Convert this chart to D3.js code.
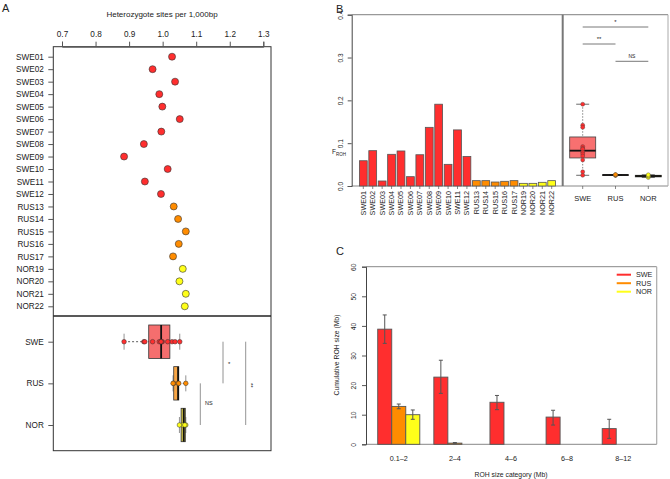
<!DOCTYPE html>
<html><head><meta charset="utf-8">
<script src="https://cdn.jsdelivr.net/npm/d3@7"></script>
<style>
html,body{margin:0;padding:0;background:#fff;}
svg{display:block;font-family:"Liberation Sans",Arial,Helvetica,sans-serif;}
</style></head>
<body><svg id="c" width="670" height="479"></svg>
<script>
// ---------- DATA ----------
const ids = ["SWE01","SWE02","SWE03","SWE04","SWE05","SWE06","SWE07","SWE08","SWE09","SWE10","SWE11","SWE12",
             "RUS13","RUS14","RUS15","RUS16","RUS17","NOR19","NOR20","NOR21","NOR22"];
const idGroup = ids.map(d => d.slice(0,3));
const groups = ["SWE","RUS","NOR"];
const groupColors = ["#FF2E2E","#FF8C00","#FFFF1A"];
const boxFillA = ["#F56E6E","#F7A545","#CFC24A"];
// Panel A: heterozygote sites per 1,000bp
const hetValues = [1.028,0.970,1.037,0.990,0.999,1.051,0.996,0.944,0.885,1.015,0.947,0.995,
                   1.033,1.046,1.069,1.048,1.031,1.060,1.050,1.069,1.066];
const hetTicks = [0.7,0.8,0.9,1.0,1.1,1.2,1.3];
// Panel B: FROH per individual
const frohValues = [0.059,0.0825,0.0117,0.074,0.0818,0.0218,0.073,0.137,0.191,0.0506,0.131,0.069,
                    0.0125,0.0125,0.0093,0.011,0.0125,0.0062,0.0062,0.0086,0.0125];
const frohTicks = [0.0,0.1,0.2,0.3,0.4];
// Panel B boxplot values per population
const frohBoxSWE = [0.191,0.142,0.137,0.092,0.088,0.086,0.079,0.075,0.070,0.061,0.033,0.025];
const frohBoxRUS = [0.0248,0.0253,0.0257,0.0261,0.0266];
const frohBoxNOR = [0.0198,0.0228,0.0238,0.0262];
// Panel C: cumulative ROH size by category
const rohCats = ["0.1\u20132","2\u20134","4\u20136","6\u20138","8\u201312"];
const rohSWE = [38.9,22.7,14.2,9.2,5.3];
const rohRUS = [12.8,0.4,0,0,0];
const rohNOR = [10.0,0,0,0,0];
const rohSWElo = [34.1,17.2,11.7,6.5,2.0], rohSWEhi = [43.7,28.4,16.5,11.5,8.45];
const rohRUSlo = [12.0,0.2,0,0,0], rohRUShi = [13.6,0.6,0,0,0];
const rohNORlo = [8.45,0,0,0,0], rohNORhi = [11.6,0,0,0,0];
const rohTicks = [0,10,20,30,40,50,60];

// ---------- helpers ----------
function fivenum(arr){
  const x = arr.slice().sort((a,b)=>a-b), n = x.length;
  const n4 = Math.floor((n+3)/2)/2;
  const d = [1,n4,(n+1)/2,n+1-n4,n];
  return d.map(v => 0.5*(x[Math.floor(v-1)] + x[Math.ceil(v-1)]));
}
const svg = d3.select("#c");
const txt = "#222";

// panel letters
svg.append("text").attr("x",2).attr("y",12).attr("font-size",11).attr("fill",txt).text("A");
svg.append("text").attr("x",336).attr("y",13).attr("font-size",11).attr("fill",txt).text("B");
svg.append("text").attr("x",336).attr("y",255).attr("font-size",11).attr("fill",txt).text("C");

// ================= PANEL A =================
const xA = d3.scaleLinear().domain([0.7,1.3]).range([62,263.3]);
const yA = d3.scalePoint().domain(ids).range([56.7,306.3]);
const yAb = d3.scalePoint().domain(groups).range([341.7,425]);
const gA = svg.append("g");
gA.append("rect").attr("x",53.3).attr("y",46.7).attr("width",217.7).attr("height",404)
  .attr("fill","none").attr("stroke","#333").attr("stroke-width",1);
gA.append("line").attr("x1",53.3).attr("x2",271).attr("y1",316).attr("y2",316)
  .attr("stroke","#222").attr("stroke-width",1.3);
gA.append("text").attr("x",162).attr("y",17).attr("text-anchor","middle").attr("font-size",8)
  .attr("fill",txt).text("Heterozygote sites per 1,000bp");
const axA = gA.append("g").attr("transform","translate(0,46.7)")
  .call(d3.axisTop(xA).tickValues(hetTicks).tickFormat(d3.format(".1f")).tickSize(5).tickPadding(5));
const axL = gA.append("g").attr("transform","translate(53.3,0)")
  .call(d3.axisLeft(yA).tickSize(5).tickPadding(4.5));
const axL2 = gA.append("g").attr("transform","translate(53.3,0)")
  .call(d3.axisLeft(yAb).tickSize(5).tickPadding(4.5));
[axA,axL,axL2].forEach(a=>{
  a.select(".domain").attr("stroke","#555");
  a.selectAll(".tick line").attr("stroke","#555");
  a.selectAll("text").attr("font-size",8.2).attr("fill",txt).attr("font-family","Liberation Sans, Arial, sans-serif");
});
axL.select(".domain").remove(); axL2.select(".domain").remove();
// dots
gA.selectAll("circle.dot").data(hetValues).join("circle").attr("class","dot")
  .attr("cx",d=>xA(d)).attr("cy",(d,i)=>yA(ids[i])).attr("r",3.5)
  .attr("fill",(d,i)=>groupColors[groups.indexOf(idGroup[i])])
  .attr("stroke","#333").attr("stroke-width",0.6);
// boxplots
groups.forEach((g,gi)=>{
  const vals = hetValues.filter((d,i)=>idGroup[i]===g);
  const f = fivenum(vals);
  const cy = yAb(g), hh = 16.7, sh = 8;
  gA.append("line").attr("x1",xA(f[0])).attr("x2",xA(f[1])).attr("y1",cy).attr("y2",cy)
    .attr("stroke","#333").attr("stroke-dasharray","2,2").attr("stroke-width",0.8);
  gA.append("line").attr("x1",xA(f[3])).attr("x2",xA(f[4])).attr("y1",cy).attr("y2",cy)
    .attr("stroke","#333").attr("stroke-dasharray","2,2").attr("stroke-width",0.8);
  [f[0],f[4]].forEach(v=>gA.append("line").attr("x1",xA(v)).attr("x2",xA(v))
    .attr("y1",cy-sh).attr("y2",cy+sh).attr("stroke","#777").attr("stroke-width",0.8));
  gA.append("rect").attr("x",xA(f[1])).attr("y",cy-hh).attr("width",xA(f[3])-xA(f[1])).attr("height",2*hh)
    .attr("fill",boxFillA[gi]).attr("stroke","#333").attr("stroke-width",0.8);
  gA.append("line").attr("x1",xA(f[2])).attr("x2",xA(f[2])).attr("y1",cy-hh).attr("y2",cy+hh)
    .attr("stroke","#111").attr("stroke-width",1.8);
  gA.selectAll(null).data(vals).join("circle").attr("cx",d=>xA(d)).attr("cy",cy).attr("r",2.3)
    .attr("fill",groupColors[gi]).attr("stroke","#333").attr("stroke-width",0.5);
});
// significance
const sigA = [[200.3,"RUS","NOR","NS",205,404,0],[223,"SWE","RUS","*",228,364,0],[245.7,"SWE","NOR","**",251,383,90]];
sigA.forEach(s=>{
  gA.append("line").attr("x1",s[0]).attr("x2",s[0]).attr("y1",yAb(s[1])).attr("y2",yAb(s[2]))
    .attr("stroke","#777").attr("stroke-width",0.8);
  gA.append("text").attr("transform",`translate(${s[4]},${s[5]}) rotate(${s[6]})`)
    .attr("font-size",s[3]==="NS"?5.5:6).attr("fill",txt).attr("dominant-baseline","middle").attr("text-anchor","start").text(s[3]);
});

// ================= PANEL B =================
const gB = svg.append("g");
const xB = d3.scaleBand().domain(ids).range([358.6,556.4]).paddingInner(0.17).paddingOuter(0.085);
const yB = d3.scaleLinear().domain([0,0.4]).range([186,14.7]);
const xBb = d3.scalePoint().domain(groups).range([582.7,648.3]);
gB.append("line").attr("x1",351.7).attr("x2",668).attr("y1",14.7).attr("y2",14.7).attr("stroke","#999").attr("stroke-width",1.2);
gB.append("line").attr("x1",351.7).attr("x2",668).attr("y1",186).attr("y2",186).attr("stroke","#888").attr("stroke-width",1);
gB.append("line").attr("x1",562.7).attr("x2",562.7).attr("y1",14.7).attr("y2",186).attr("stroke","#777").attr("stroke-width",2);
gB.append("line").attr("x1",668).attr("x2",668).attr("y1",14.7).attr("y2",186).attr("stroke","#aaa").attr("stroke-width",1);
gB.selectAll("rect.bar").data(frohValues).join("rect").attr("class","bar")
  .attr("x",(d,i)=>xB(ids[i])).attr("width",xB.bandwidth())
  .attr("y",d=>yB(d)).attr("height",d=>yB(0)-yB(d))
  .attr("fill",(d,i)=>groupColors[groups.indexOf(idGroup[i])])
  .attr("stroke","#555").attr("stroke-width",0.8);
const axB = gB.append("g").attr("transform","translate(351.7,0)")
  .call(d3.axisLeft(yB).tickValues(frohTicks).tickFormat(d3.format(".1f")).tickSize(4));
axB.select(".domain").attr("stroke","#444");
axB.selectAll(".tick line").attr("stroke","#555");
axB.selectAll(".tick text").attr("x",-8.5).attr("dy",0).attr("text-anchor","middle")
  .attr("transform","rotate(-90,-8.5,0)").attr("font-size",6.5).attr("fill",txt)
  .attr("font-family","Liberation Sans, Arial, sans-serif");
// bar labels
ids.forEach((id,i)=>{
  const cx = xB(id)+xB.bandwidth()/2;
  gB.append("line").attr("x1",cx).attr("x2",cx).attr("y1",186).attr("y2",189).attr("stroke","#555").attr("stroke-width",0.7);
  gB.append("text").attr("transform",`translate(${cx+2.5},191) rotate(-90)`).attr("text-anchor","end")
    .attr("font-size",7.2).attr("fill",txt).text(id);
});
const fy = gB.append("text").attr("x",332).attr("y",154).attr("font-size",6.5).attr("fill",txt);
fy.append("tspan").text("F");
fy.append("tspan").attr("dy",1.5).attr("font-size",4.5).text("ROH");
// boxplots B
const boxBvals = [frohBoxSWE,frohBoxRUS,frohBoxNOR];
const boxFillB = ["#F87070","#F7A545","#CFC24A"];
groups.forEach((g,gi)=>{
  const vals = boxBvals[gi], f = fivenum(vals), cx = xBb(g), hw = 13, sw = 6.5;
  gB.append("line").attr("x1",cx).attr("x2",cx).attr("y1",yB(f[4])).attr("y2",yB(f[3]))
    .attr("stroke","#666").attr("stroke-dasharray","1.5,1.5").attr("stroke-width",0.8);
  gB.append("line").attr("x1",cx).attr("x2",cx).attr("y1",yB(f[1])).attr("y2",yB(f[0]))
    .attr("stroke","#666").attr("stroke-dasharray","1.5,1.5").attr("stroke-width",0.8);
  [f[0],f[4]].forEach(v=>gB.append("line").attr("x1",cx-sw).attr("x2",cx+sw).attr("y1",yB(v)).attr("y2",yB(v))
    .attr("stroke","#444").attr("stroke-width",0.8));
  gB.append("rect").attr("x",cx-hw).attr("y",yB(f[3])).attr("width",2*hw).attr("height",Math.max(yB(f[1])-yB(f[3]),0.5))
    .attr("fill",boxFillB[gi]).attr("stroke","#444").attr("stroke-width",0.8);
  gB.append("line").attr("x1",cx-hw).attr("x2",cx+hw).attr("y1",yB(f[2])).attr("y2",yB(f[2]))
    .attr("stroke","#111").attr("stroke-width",1.8);
  gB.selectAll(null).data(vals).join("circle").attr("cx",cx).attr("cy",d=>yB(d)).attr("r",2)
    .attr("fill",groupColors[gi]).attr("stroke","#444").attr("stroke-width",0.4);
  gB.append("line").attr("x1",cx).attr("x2",cx).attr("y1",186).attr("y2",189).attr("stroke","#555").attr("stroke-width",0.7);
  gB.append("text").attr("x",cx).attr("y",201).attr("text-anchor","middle").attr("font-size",7.5).attr("fill",txt).text(g);
});
const sigB = [["SWE","NOR",27,"*"],["SWE","RUS",44,"**"],["RUS","NOR",61.3,"NS"]];
sigB.forEach(s=>{
  gB.append("line").attr("x1",xBb(s[0])).attr("x2",xBb(s[1])).attr("y1",s[2]).attr("y2",s[2])
    .attr("stroke","#555").attr("stroke-width",0.8);
  gB.append("text").attr("x",(xBb(s[0])+xBb(s[1]))/2).attr("y",s[2]-3).attr("text-anchor","middle")
    .attr("font-size",s[3]==="NS"?5:6).attr("fill",txt).text(s[3]);
});

// ================= PANEL C =================
const gC = svg.append("g");
const xC0 = d3.scaleBand().domain(rohCats).range([370.7,651.3]).paddingInner(0.25).paddingOuter(0.125);
const xC1 = d3.scaleBand().domain(groups).range([0,xC0.bandwidth()]);
const yC = d3.scaleLinear().domain([0,60]).range([444.3,266.7]);
gC.append("line").attr("x1",366).attr("x2",656.7).attr("y1",266.7).attr("y2",266.7).attr("stroke","#888").attr("stroke-width",1);
gC.append("line").attr("x1",656.7).attr("x2",656.7).attr("y1",266.7).attr("y2",444.3).attr("stroke","#aaa").attr("stroke-width",1.2);
gC.append("line").attr("x1",366).attr("x2",656.7).attr("y1",444.3).attr("y2",444.3).attr("stroke","#888").attr("stroke-width",1);
const rohVals = [rohSWE,rohRUS,rohNOR], rohLo = [rohSWElo,rohRUSlo,rohNORlo], rohHi = [rohSWEhi,rohRUShi,rohNORhi];
rohCats.forEach((c,ci)=>{
  groups.forEach((g,gi)=>{
    const x = xC0(c)+xC1(g), w = xC1.bandwidth(), v = rohVals[gi][ci];
    gC.append("rect").attr("x",x).attr("width",w).attr("y",yC(v)).attr("height",yC(0)-yC(v))
      .attr("fill",groupColors[gi]).attr("stroke","#555").attr("stroke-width",0.9);
    const lo = rohLo[gi][ci], hi = rohHi[gi][ci];
    if(hi>lo){
      const cx = x+w/2;
      gC.append("line").attr("x1",cx).attr("x2",cx).attr("y1",yC(hi)).attr("y2",yC(lo)).attr("stroke","#555").attr("stroke-width",1);
      [lo,hi].forEach(v2=>gC.append("line").attr("x1",cx-2).attr("x2",cx+2).attr("y1",yC(v2)).attr("y2",yC(v2))
        .attr("stroke","#555").attr("stroke-width",1));
    }
  });
  gC.append("text").attr("x",xC0(c)+xC0.bandwidth()/2).attr("y",461).attr("text-anchor","middle")
    .attr("font-size",7.2).attr("fill",txt).text(c);
});
const axC = gC.append("g").attr("transform","translate(366,0)")
  .call(d3.axisLeft(yC).tickValues(rohTicks).tickSize(4));
axC.select(".domain").attr("stroke","#444");
axC.selectAll(".tick line").attr("stroke","#555");
axC.selectAll(".tick text").attr("x",-10).attr("dy",0).attr("text-anchor","middle")
  .attr("transform","rotate(-90,-10,0)").attr("font-size",6.8).attr("fill",txt)
  .attr("font-family","Liberation Sans, Arial, sans-serif");
gC.append("text").attr("transform","translate(339,355) rotate(-90)").attr("text-anchor","middle")
  .attr("font-size",6.8).attr("fill",txt).text("Cumulative ROH size (Mb)");
gC.append("text").attr("x",511).attr("y",477).attr("text-anchor","middle")
  .attr("font-size",6.8).attr("fill",txt).text("ROH size category (Mb)");
// legend
groups.forEach((g,gi)=>{
  const y = 274.7 + gi*8.5;
  gC.append("line").attr("x1",616.7).attr("x2",631).attr("y1",y).attr("y2",y).attr("stroke",groupColors[gi]).attr("stroke-width",2);
  gC.append("text").attr("x",636).attr("y",y+2.5).attr("font-size",7.2).attr("fill",txt).text(g);
});
</script></body></html>
